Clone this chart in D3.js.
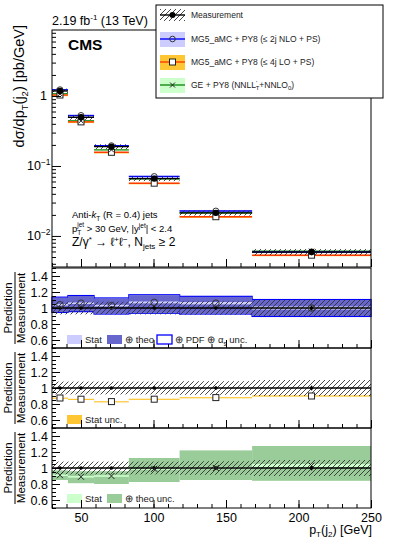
<!DOCTYPE html>
<html>
<head>
<meta charset="utf-8">
<script src="https://cdn.jsdelivr.net/npm/d3@7"></script>
<style>
body { margin: 0; background: #fff; }
text { font-family: "Liberation Sans", Arial, sans-serif; }
</style>
</head>
<body>
<script>
// bins of pT(j2) in GeV
var binEdges = [30, 41, 59, 83, 118, 168, 250];
// measured cross section, pb/GeV
var measured = [1.18, 0.496, 0.189, 0.066, 0.0214, 0.0059];
var measUnc = [0.08, 0.08, 0.08, 0.08, 0.085, 0.10];
var measStat = [0.01, 0.01, 0.012, 0.015, 0.02, 0.03];

// MG5_aMC NLO : prediction / measurement
var nloRatio = [1.04, 1.06, 1.03, 1.07, 1.06, 1.0];
var nloStat = [0.01, 0.01, 0.01, 0.012, 0.015, 0.02];
var nloTheoLo = [0.95, 0.96, 0.93, 0.94, 0.93, 0.90];
var nloTheoHi = [1.13, 1.15, 1.12, 1.16, 1.14, 1.10];
var nloPdfLo = [0.945, 0.955, 0.925, 0.935, 0.925, 0.895];
var nloPdfHi = [1.135, 1.155, 1.125, 1.165, 1.145, 1.105];

// MG5_aMC LO
var loRatio = [0.875, 0.86, 0.83, 0.86, 0.88, 0.9];
var loStat = [0.005, 0.005, 0.005, 0.006, 0.006, 0.008];

// GE + PY8
var geRatio = [0.91, 0.89, 0.90, 0.99, 1.0, 1.03];
var geStat = [0.01, 0.01, 0.01, 0.012, 0.015, 0.02];
var geTheoLo = [0.85, 0.81, 0.80, 0.825, 0.85, 0.84];
var geTheoHi = [0.97, 0.96, 0.96, 1.125, 1.22, 1.275];

var xMajor = [50, 100, 150, 200, 250];
var xMinor = d3.range(30, 251, 10);
var rMajor = [0.6, 0.8, 1, 1.2, 1.4];
var rMinor = d3.range(0.5, 1.501, 0.05);

var col = {
  nloLine: "#0000ff", nloStat: "#ccccff", nloTheo: "#6666cc",
  loLine: "#ff3a00", loStat: "#ffc633",
  geLine: "#138a13", geStat: "#ccffcc", geTheo: "#99cc99"
};

var svg = d3.select("body").append("svg")
    .attr("width", 399)
    .attr("height", 551);

var defs = svg.append("defs");
defs.append("pattern")
    .attr("id", "hatch")
    .attr("patternUnits", "userSpaceOnUse")
    .attr("width", 5).attr("height", 5)
    .append("path")
    .attr("d", "M-1,1 l2,-2 M0,5 l5,-5 M4,6 l2,-2")
    .attr("stroke", "#333").attr("stroke-width", 0.9);

var x = d3.scaleLinear().domain([30, 250]).range([52, 371]);
var yTop = d3.scaleLog().domain([0.0036, 8.77]).range([267, 30]);

var bins = measured.map(function (m, i) {
  return { i: i, lo: binEdges[i], hi: binEdges[i + 1], c: (binEdges[i] + binEdges[i + 1]) / 2, m: m };
});

// ---------- markers ----------
function circleMark(g, cx, cy, r) {
  g.append("circle").attr("cx", cx).attr("cy", cy).attr("r", r)
    .attr("fill", "none").attr("stroke", "#333").attr("stroke-width", 1);
}
function squareMark(g, cx, cy, s) {
  g.append("rect").attr("x", cx - s / 2).attr("y", cy - s / 2).attr("width", s).attr("height", s)
    .attr("fill", "#fff").attr("stroke", "#222").attr("stroke-width", 1);
}
function crossMark(g, cx, cy, s) {
  g.append("path").attr("d", "M" + (cx - s) + "," + (cy - s) + "L" + (cx + s) + "," + (cy + s) +
      "M" + (cx - s) + "," + (cy + s) + "L" + (cx + s) + "," + (cy - s))
    .attr("stroke", "#222").attr("stroke-width", 1);
}

// ---------- top panel ----------
var topG = svg.append("g");

function topPrediction(ratio, stat, lineCol, statCol) {
  bins.forEach(function (b) {
    var v = b.m * ratio[b.i];
    topG.append("rect")
      .attr("x", x(b.lo)).attr("width", x(b.hi) - x(b.lo))
      .attr("y", yTop(v * (1 + stat[b.i] * 2)))
      .attr("height", Math.max(1.5, yTop(v * (1 - stat[b.i] * 2)) - yTop(v * (1 + stat[b.i] * 2))))
      .attr("fill", statCol);
    topG.append("line")
      .attr("x1", x(b.lo)).attr("x2", x(b.hi))
      .attr("y1", yTop(v)).attr("y2", yTop(v))
      .attr("stroke", lineCol).attr("stroke-width", 1.4);
  });
}
topPrediction(geRatio, geStat, col.geLine, col.geStat);
topPrediction(loRatio, loStat, col.loLine, col.loStat);
topPrediction(nloRatio, nloStat, col.nloLine, col.nloStat);

bins.forEach(function (b) {
  topG.append("rect")
    .attr("x", x(b.lo)).attr("width", x(b.hi) - x(b.lo))
    .attr("y", yTop(b.m * (1 + measUnc[b.i])))
    .attr("height", yTop(b.m * (1 - measUnc[b.i])) - yTop(b.m * (1 + measUnc[b.i])))
    .attr("fill", "url(#hatch)");
  topG.append("line")
    .attr("x1", x(b.lo)).attr("x2", x(b.hi))
    .attr("y1", yTop(b.m)).attr("y2", yTop(b.m))
    .attr("stroke", "#000").attr("stroke-width", 1.4);
});
bins.forEach(function (b) {
  circleMark(topG, x(b.c), yTop(b.m * nloRatio[b.i]), 3);
  squareMark(topG, x(b.c), yTop(b.m * loRatio[b.i]), 6);
  crossMark(topG, x(b.c), yTop(b.m * geRatio[b.i]), 2.5);
  topG.append("line")
    .attr("x1", x(b.c)).attr("x2", x(b.c))
    .attr("y1", yTop(b.m * (1 + measUnc[b.i]))).attr("y2", yTop(b.m * (1 - measUnc[b.i])))
    .attr("stroke", "#000");
  topG.append("circle").attr("cx", x(b.c)).attr("cy", yTop(b.m)).attr("r", 3.2).attr("fill", "#000");
});

// top axes
var logMinor = [];
[0.001, 0.01, 0.1, 1].forEach(function (d) {
  for (var k = 2; k <= 9; k++) logMinor.push(d * k);
});
logMinor = logMinor.filter(function (v) { return v > 0.0036 && v < 8.77; });

svg.append("g").attr("transform", "translate(52,0)")
  .call(d3.axisLeft(yTop).tickValues(logMinor).tickSize(-4).tickFormat(""))
  .call(function (g) { g.select(".domain").remove(); });
svg.append("g").attr("transform", "translate(52,0)")
  .call(d3.axisLeft(yTop).tickValues([0.01, 0.1, 1]).tickSize(-9).tickFormat(""))
  .call(function (g) { g.select(".domain").remove(); });

var logLabels = [[1, "1", null], [0.1, "10", "\u22121"], [0.01, "10", "\u22122"]];
logLabels.forEach(function (l) {
  var t = svg.append("text")
    .attr("x", l[2] ? 27 : 40).attr("y", yTop(l[0]) + 4.5)
    .attr("font-size", 12.5).attr("fill", "#000");
  t.append("tspan").text(l[1]);
  if (l[2]) t.append("tspan").attr("dy", -5).attr("font-size", 8.5).text(l[2]);
});

function xTicks(yPos, labels) {
  svg.append("g").attr("transform", "translate(0," + yPos + ")")
    .call(d3.axisBottom(x).tickValues(xMinor).tickSize(-4).tickFormat(""))
    .call(function (g) { g.select(".domain").remove(); });
  svg.append("g").attr("transform", "translate(0," + yPos + ")")
    .call(d3.axisBottom(x).tickValues(xMajor).tickSize(-8).tickFormat(labels ? d3.format("d") : ""))
    .call(function (g) {
      g.select(".domain").remove();
      g.selectAll("text").attr("font-size", 12.5).attr("fill", "#000")
        .attr("font-family", "Liberation Sans, Arial, sans-serif").attr("dy", "0.85em");
    });
}
xTicks(267, false);

svg.append("rect").attr("x", 52).attr("y", 30).attr("width", 319).attr("height", 237)
  .attr("fill", "none").attr("stroke", "#000").attr("stroke-width", 1);

// ---------- ratio panels ----------
function ratioPanel(y0) {
  var yr = d3.scaleLinear().domain([0.5, 1.5]).range([y0 + 80, y0]);
  return yr;
}

function measBand(g, yr) {
  bins.forEach(function (b) {
    g.append("rect")
      .attr("x", x(b.lo)).attr("width", x(b.hi) - x(b.lo))
      .attr("y", yr(1 + measUnc[b.i])).attr("height", yr(1 - measUnc[b.i]) - yr(1 + measUnc[b.i]))
      .attr("fill", "url(#hatch)");
  });
  g.append("line").attr("x1", x(30)).attr("x2", x(250)).attr("y1", yr(1)).attr("y2", yr(1))
    .attr("stroke", "#000").attr("stroke-width", 1.4);
  bins.forEach(function (b) {
    g.append("line").attr("x1", x(b.c)).attr("x2", x(b.c))
      .attr("y1", yr(1 + measStat[b.i])).attr("y2", yr(1 - measStat[b.i]))
      .attr("stroke", "#000").attr("stroke-width", 1.2);
    g.append("circle").attr("cx", x(b.c)).attr("cy", yr(1)).attr("r", 1.8).attr("fill", "#000");
  });
}

function band(g, yr, lo, hi, fill, stroke) {
  bins.forEach(function (b) {
    g.append("rect")
      .attr("x", x(b.lo)).attr("width", x(b.hi) - x(b.lo))
      .attr("y", yr(hi[b.i])).attr("height", Math.max(1.2, yr(lo[b.i]) - yr(hi[b.i])))
      .attr("fill", fill).attr("stroke", stroke || "none").attr("stroke-width", 1.3);
  });
}

function ratioAxes(y0, yr, labels) {
  svg.append("g").attr("transform", "translate(52,0)")
    .call(d3.axisLeft(yr).tickValues(rMinor).tickSize(-4).tickFormat(""))
    .call(function (g) { g.select(".domain").remove(); });
  svg.append("g").attr("transform", "translate(52,0)")
    .call(d3.axisLeft(yr).tickValues(rMajor).tickSize(-8).tickFormat(function (d) { return d3.format("")(+d.toFixed(1)); }))
    .call(function (g) {
      g.select(".domain").remove();
      g.selectAll("text").attr("font-size", 12.5).attr("fill", "#000").attr("x", -4)
        .attr("font-family", "Liberation Sans, Arial, sans-serif");
    });
  xTicks(y0 + 80, labels);
  svg.append("rect").attr("x", 52).attr("y", y0).attr("width", 319).attr("height", 80)
    .attr("fill", "none").attr("stroke", "#000").attr("stroke-width", 1);

  var t = svg.append("g").attr("transform", "translate(16," + (y0 + 40) + ") rotate(-90)");
  t.append("text").attr("x", 0).attr("y", -4).attr("text-anchor", "middle").attr("font-size", 11.5).text("Prediction");
  t.append("line").attr("x1", -36).attr("x2", 36).attr("y1", -1).attr("y2", -1).attr("stroke", "#000");
  t.append("text").attr("x", 0).attr("y", 8.5).attr("text-anchor", "middle").attr("font-size", 11.5).text("Measurement");
}

function legendItem(g, xPos, yPos, fill, stroke) {
  g.append("rect").attr("x", xPos).attr("y", yPos - 8).attr("width", 15).attr("height", 9)
    .attr("fill", fill).attr("stroke", stroke || "none").attr("stroke-width", 1.3);
  var t = g.append("text").attr("x", xPos + 18).attr("y", yPos).attr("font-size", 9.5).attr("fill", "#222");
  return t;
}

// panel 1 : MG5_aMC NLO
var y1 = ratioPanel(268);
var p1 = svg.append("g");
band(p1, y1, nloPdfLo, nloPdfHi, "none", col.nloLine);
band(p1, y1, nloTheoLo, nloTheoHi, col.nloTheo);
band(p1, y1, nloRatio.map(function (r, i) { return r - nloStat[i]; }), nloRatio.map(function (r, i) { return r + nloStat[i]; }), col.nloStat);
measBand(p1, y1);
bins.forEach(function (b) { circleMark(p1, x(b.c), y1(nloRatio[b.i]), 3.3); });
legendItem(p1, 67, 343, col.nloStat).text("Stat");
legendItem(p1, 107, 343, col.nloTheo).text("\u2295 theo");
var pdfLeg = legendItem(p1, 157, 343, "#fff", col.nloLine).text("\u2295 PDF \u2295 \u03b1");
pdfLeg.append("tspan").attr("dy", 2.5).attr("font-size", 6.5).text("s");
pdfLeg.append("tspan").attr("dy", -2.5).text(" unc.");
ratioAxes(268, y1, false);

// panel 2 : MG5_aMC LO
var y2 = ratioPanel(348);
var p2 = svg.append("g");
band(p2, y2, loRatio.map(function (r, i) { return r - loStat[i]; }), loRatio.map(function (r, i) { return r + loStat[i]; }), col.loStat);
measBand(p2, y2);
bins.forEach(function (b) { squareMark(p2, x(b.c), y2(loRatio[b.i]), 6); });
legendItem(p2, 67, 423, col.loStat).text("Stat unc.");
ratioAxes(348, y2, false);

// panel 3 : GE + PY8
var y3 = ratioPanel(428);
var p3 = svg.append("g");
band(p3, y3, geTheoLo, geTheoHi, col.geTheo);
band(p3, y3, geRatio.map(function (r, i) { return r - geStat[i]; }), geRatio.map(function (r, i) { return r + geStat[i]; }), col.geStat);
measBand(p3, y3);
bins.forEach(function (b) { crossMark(p3, x(b.c), y3(geRatio[b.i]), 3); });
legendItem(p3, 67, 502, col.geStat).text("Stat");
legendItem(p3, 107, 502, col.geTheo).text("\u2295 theo unc.");
ratioAxes(428, y3, true);

// ---------- texts ----------
var xt = svg.append("text").attr("x", 372).attr("y", 534).attr("text-anchor", "end").attr("font-size", 12.5);
xt.append("tspan").text("p");
xt.append("tspan").attr("dy", 3).attr("font-size", 8).text("T");
xt.append("tspan").attr("dy", -3).text("(j");
xt.append("tspan").attr("dy", 3).attr("font-size", 8).text("2");
xt.append("tspan").attr("dy", -3).text(") [GeV]");

var yt = svg.append("text").attr("transform", "translate(24,25) rotate(-90)")
  .attr("text-anchor", "end").attr("font-size", 14.5);
yt.append("tspan").text("d\u03c3/dp");
yt.append("tspan").attr("dy", 3.5).attr("font-size", 9.5).text("T");
yt.append("tspan").attr("dy", -3.5).text("(j");
yt.append("tspan").attr("dy", 3.5).attr("font-size", 9.5).text("2");
yt.append("tspan").attr("dy", -3.5).text(")  [pb/GeV]");

var lumi = svg.append("text").attr("x", 52).attr("y", 25).attr("font-size", 12.5);
lumi.append("tspan").text("2.19 fb");
lumi.append("tspan").attr("dy", -5).attr("font-size", 8).text("-1");
lumi.append("tspan").attr("dy", 5).text(" (13 TeV)");

svg.append("text").attr("x", 68).attr("y", 50).attr("font-size", 15.5).attr("font-weight", "bold").text("CMS");

var a1 = svg.append("text").attr("x", 72).attr("y", 218).attr("font-size", 9.5);
a1.append("tspan").text("Anti-");
a1.append("tspan").attr("font-style", "italic").text("k");
a1.append("tspan").attr("dy", 2.5).attr("font-size", 6.5).text("T");
a1.append("tspan").attr("dy", -2.5).text(" (R = 0.4) jets");

var a2 = svg.append("text").attr("x", 72).attr("y", 232).attr("font-size", 9.5);
a2.append("tspan").text("p");
a2.append("tspan").attr("dy", 3).attr("font-size", 6.5).text("T");
a2.append("tspan").attr("dx", -4).attr("dy", -8).attr("font-size", 6.5).text("jet");
a2.append("tspan").attr("dy", 5).text(" > 30 GeV, |y");
a2.append("tspan").attr("dy", -4).attr("font-size", 6.5).text("jet");
a2.append("tspan").attr("dy", 4).text("| < 2.4");

var a3 = svg.append("text").attr("x", 72).attr("y", 246).attr("font-size", 12);
a3.append("tspan").text("Z/\u03b3");
a3.append("tspan").attr("dy", -4).attr("font-size", 8).text("*");
a3.append("tspan").attr("dy", 4).text(" \u2192 \u2113");
a3.append("tspan").attr("dy", -4).attr("font-size", 8).text("+");
a3.append("tspan").attr("dy", 4).text("\u2113");
a3.append("tspan").attr("dy", -4).attr("font-size", 8).text("\u2212");
a3.append("tspan").attr("dy", 4).text(", N");
a3.append("tspan").attr("dy", 3).attr("font-size", 8).text("jets");
a3.append("tspan").attr("dy", -3).text(" \u2265 2");

// ---------- legend ----------
var leg = svg.append("g");
leg.append("rect").attr("x", 156).attr("y", 5).attr("width", 227).attr("height", 93)
  .attr("fill", "#fff").attr("stroke", "#000").attr("stroke-width", 1);

var legRows = [
  { y: 15, label: "Measurement" },
  { y: 39, label: "MG5_aMC + PY8 (\u2264 2j NLO + PS)", fill: col.nloStat, line: col.nloLine, mark: "circle" },
  { y: 62, label: "MG5_aMC + PY8 (\u2264 4j LO + PS)", fill: col.loStat, line: col.loLine, mark: "square" },
  { y: 85, label: "GE + PY8 (NNLL", fill: col.geStat, line: col.geLine, mark: "cross" }
];
legRows.forEach(function (r, k) {
  if (k === 0) {
    leg.append("rect").attr("x", 160).attr("y", r.y - 6).attr("width", 25).attr("height", 12).attr("fill", "url(#hatch)");
    leg.append("line").attr("x1", 160).attr("x2", 185).attr("y1", r.y).attr("y2", r.y).attr("stroke", "#000").attr("stroke-width", 1.4);
    leg.append("circle").attr("cx", 172.5).attr("cy", r.y).attr("r", 3).attr("fill", "#000");
  } else {
    leg.append("rect").attr("x", 160).attr("y", r.y - 7).attr("width", 25).attr("height", 15).attr("fill", r.fill);
    leg.append("line").attr("x1", 160).attr("x2", 185).attr("y1", r.y).attr("y2", r.y).attr("stroke", r.line).attr("stroke-width", 1.4);
    if (r.mark === "circle") circleMark(leg, 172.5, r.y, 2.8);
    if (r.mark === "square") squareMark(leg, 172.5, r.y, 6);
    if (r.mark === "cross") crossMark(leg, 172.5, r.y, 2.5);
  }
  var t = leg.append("text").attr("x", 191).attr("y", r.y + 3).attr("font-size", 8.5).attr("fill", "#222").text(r.label);
  if (k === 3) {
    t.append("tspan").attr("dy", -3).attr("font-size", 6).text("'");
    t.append("tspan").attr("dy", 5).attr("dx", -1.5).attr("font-size", 6).text("T");
    t.append("tspan").attr("dy", -2).text("+NNLO");
    t.append("tspan").attr("dy", 2).attr("font-size", 6).text("0");
    t.append("tspan").attr("dy", -2).text(")");
  }
});
</script>
</body>
</html>
